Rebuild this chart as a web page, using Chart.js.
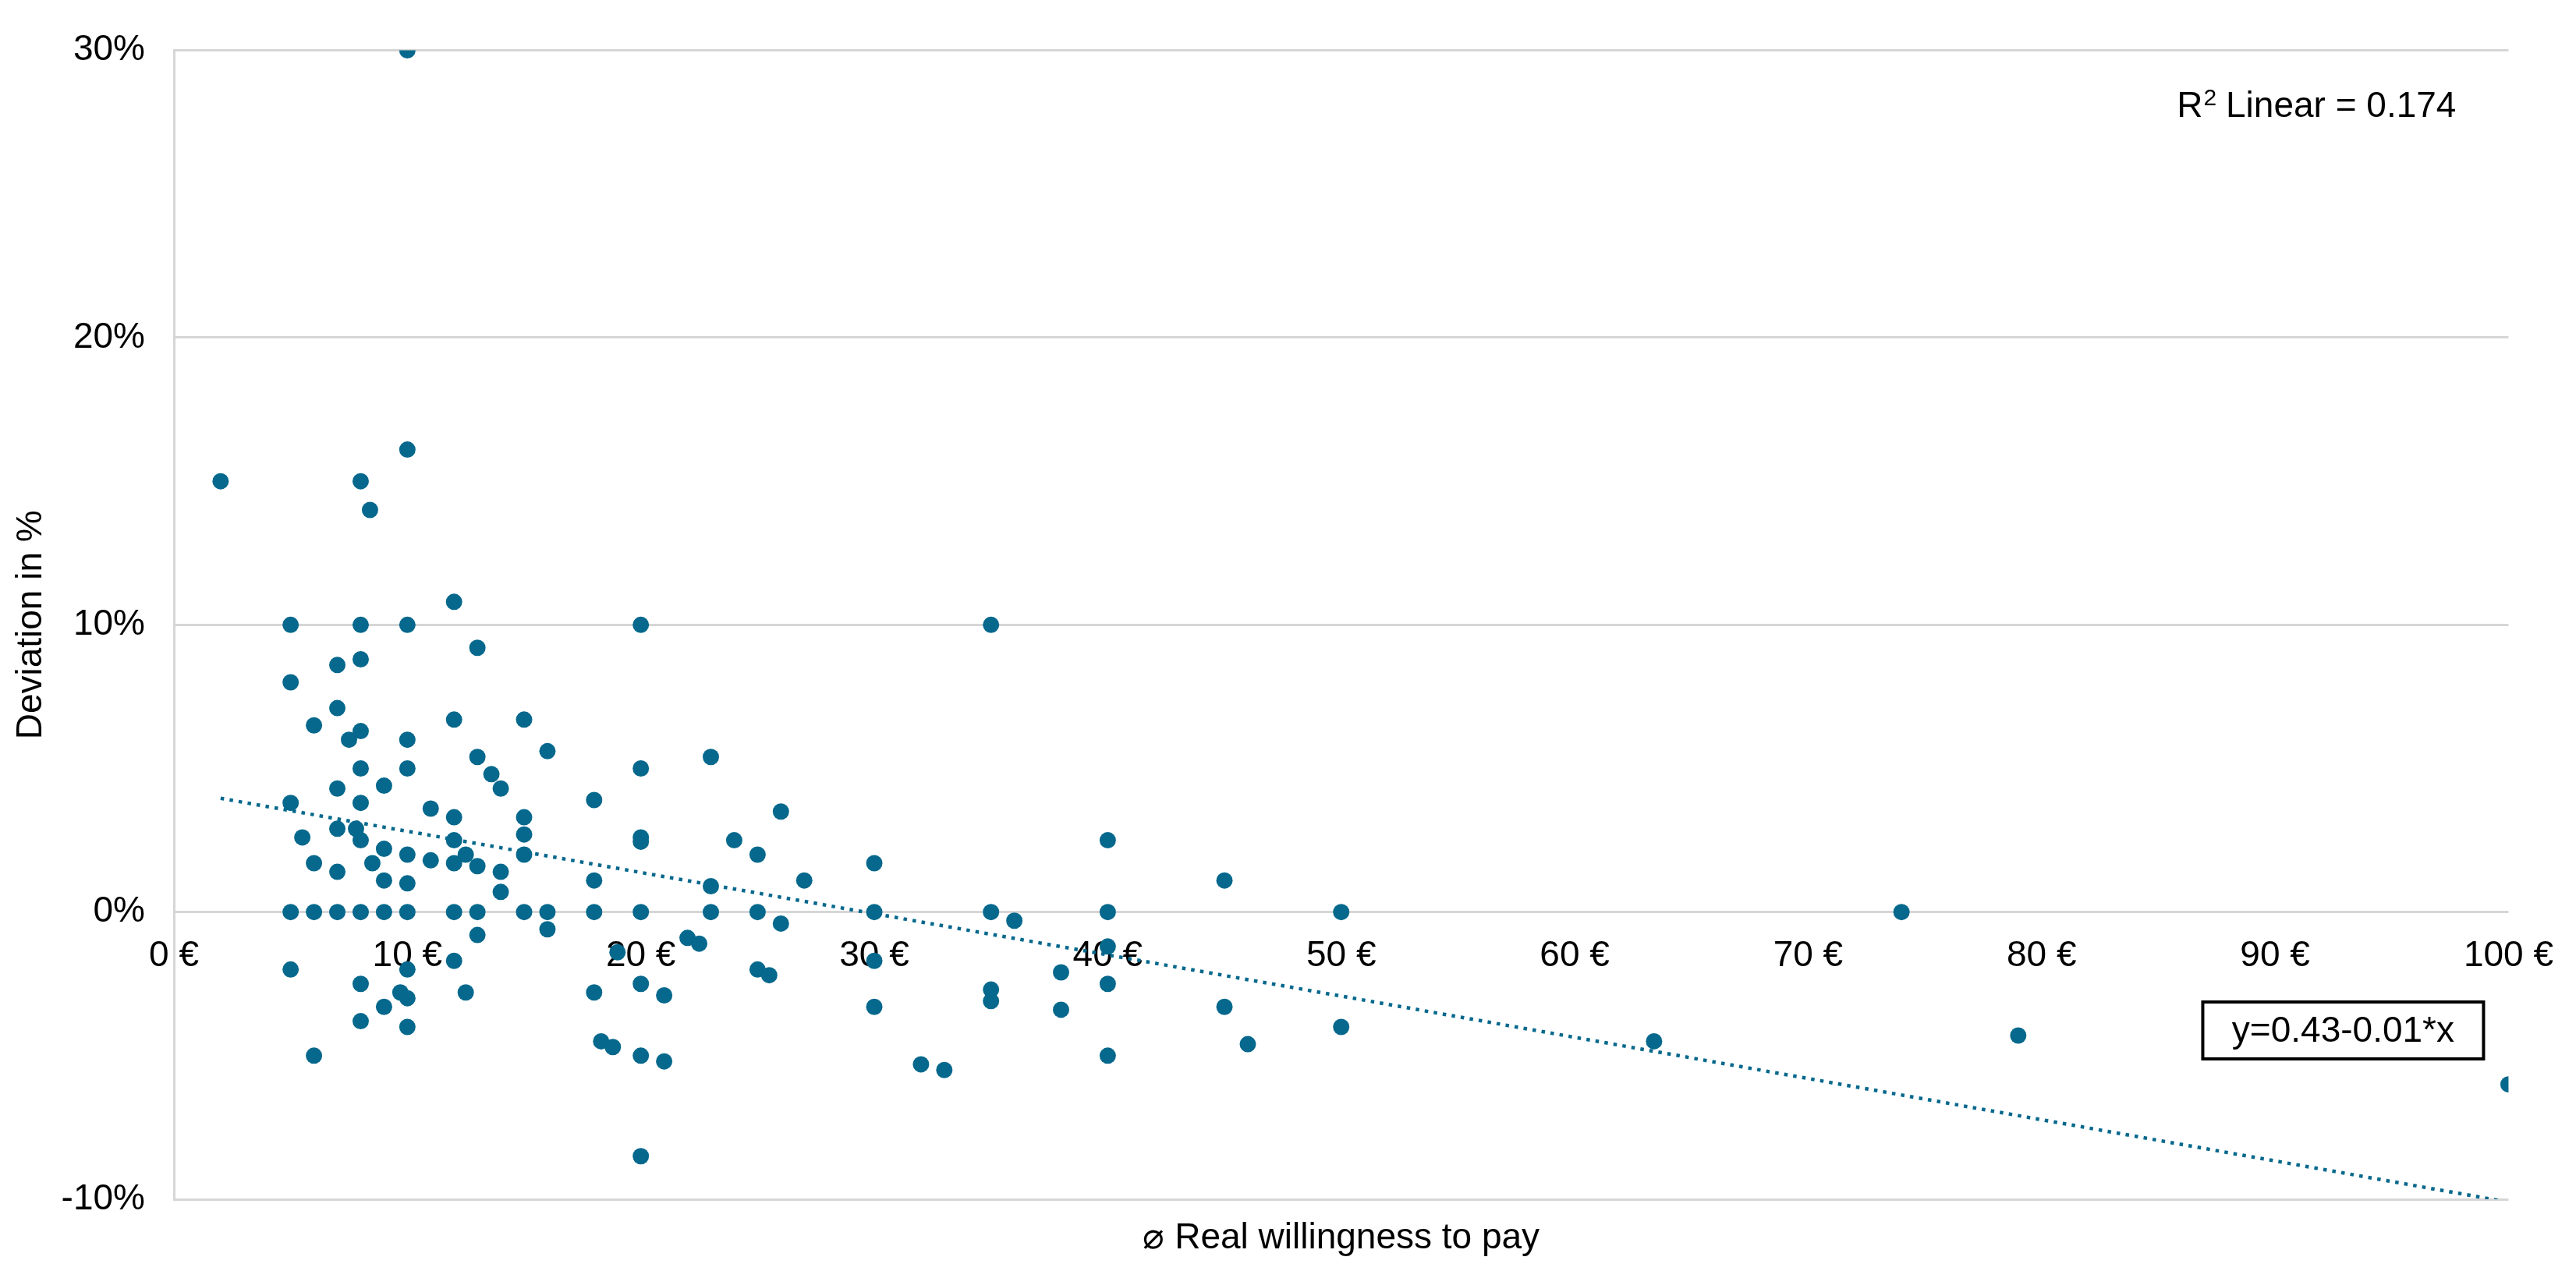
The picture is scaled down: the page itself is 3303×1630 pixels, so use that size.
<!DOCTYPE html>
<html>
<head>
<meta charset="utf-8">
<title>Deviation vs. willingness to pay</title>
<script src="https://cdn.jsdelivr.net/npm/chart.js@4.4.1/dist/chart.umd.min.js"></script>
<style>
  html, body { margin: 0; padding: 0; background: #fff; }
  #wrap { width: 3303px; height: 1630px; }
</style>
</head>
<body>
<div id="wrap"><canvas id="graph"></canvas></div>
<script>
// Real willingness to pay (EUR), one entry per respondent
var willingness = [
    10, 2, 10, 8, 8.4, 12, 5, 8, 10, 13, 8, 7, 5, 7, 6, 8, 7.5, 10, 12, 15,
    13, 16, 8, 10, 13.6, 14, 7, 9,
    5, 8, 11, 12, 15, 15, 7, 7.8, 8, 5.5, 12, 9, 10, 12.5, 15, 6, 8.5, 11,
    12, 13, 7, 14, 9, 10, 14,
    5, 6, 7, 8, 9, 10, 12, 13, 15, 16,
    16, 13, 12, 10, 5, 8, 12.5, 9.7, 10, 9, 8, 10, 6,
    18, 20, 20, 24, 26, 25, 30, 27, 18, 23,
    18, 20, 23, 25, 30,
    26, 22, 22.5, 19, 30, 25, 25.5, 18, 20, 21, 30, 18.3, 18.8, 20, 21, 32, 33, 20,
    40, 45, 35, 36, 40, 50, 40, 38, 40, 35, 35, 38, 45, 50, 46, 40,
    20, 35, 20, 23,
    74, 63.4, 79, 100
];
// Deviation in %, same order as above
var deviation = [
    30, 15, 16.1, 15, 14, 10.8, 10, 10, 10, 9.2, 8.8, 8.6, 8, 7.1, 6.5, 6.3, 6, 6, 6.7, 6.7,
    5.4, 5.6, 5, 5, 4.8, 4.3, 4.3, 4.4,
    3.8, 3.8, 3.6, 3.3, 3.3, 2.7, 2.9, 2.9, 2.5, 2.6, 2.5, 2.2, 2, 2, 2, 1.7, 1.7, 1.8,
    1.7, 1.6, 1.4, 1.4, 1.1, 1, 0.7,
    0, 0, 0, 0, 0, 0, 0, 0, 0, 0,
    -0.6, -0.8, -1.7, -2, -2, -2.5, -2.8, -2.8, -3, -3.3, -3.8, -4, -5,
    3.9, 2.6, 2.45, 2.5, 3.5, 2, 1.7, 1.1, 1.1, 0.9,
    0, 0, 0, 0, 0,
    -0.4, -0.9, -1.1, -1.4, -1.7, -2, -2.2, -2.8, -2.5, -2.9, -3.3, -4.5, -4.7, -5, -5.2, -5.3, -5.5, -8.5,
    2.5, 1.1, 0, -0.3, 0, 0, -1.2, -2.1, -2.5, -2.7, -3.1, -3.4, -3.3, -4, -4.6, -5,
    10, 10, 5, 5.4,
    0, -4.5, -4.3, -6
];
// Linear fit line as drawn (end points)
var trendX = [2, 100];
var trendY = [3.96, -10.1];
// Axis ticks
var xTicks = [0, 10, 20, 30, 40, 50, 60, 70, 80, 90, 100];
var yTicks = [-10, 0, 10, 20, 30];
var rSquared = '0.174';
var equation = 'y=0.43-0.01*x';

var FONT = "'Liberation Sans', Arial, sans-serif";
var DOT = '#05688c';
var GRID = '#d6d6d6';

Chart.defaults.font.family = FONT;
Chart.defaults.color = '#000';

function toPoints(xs, ys) {
    var pts = [];
    for (var i = 0; i < xs.length; i++) {
        pts.push({ x: xs[i], y: ys[i] });
    }
    return pts;
}

// R² text and equation box
var annotations = {
    id: 'annotations',
    afterDraw: function (chart) {
        var ctx = chart.ctx;
        var area = chart.chartArea;
        ctx.save();
        ctx.fillStyle = '#000';
        ctx.textBaseline = 'alphabetic';
        // R² Linear = ...
        var big = '46px ' + FONT;
        var small = '30px ' + FONT;
        var rest = ' Linear = ' + rSquared;
        ctx.font = big;
        var wR = ctx.measureText('R').width;
        var wRest = ctx.measureText(rest).width;
        ctx.font = small;
        var w2 = ctx.measureText('2').width;
        var right = area.right - 67;
        var base = area.top + 85;
        var x = right - (wR + w2 + wRest);
        ctx.textAlign = 'left';
        ctx.font = big;
        ctx.fillText('R', x, base);
        ctx.font = small;
        ctx.fillText('2', x + wR + 1, base - 15);
        ctx.font = big;
        ctx.fillText(rest, x + wR + w2, base);
        // Equation box
        var bx = area.right - 392;
        var by = area.bottom - 253;
        var bw = 360;
        var bh = 73;
        ctx.lineWidth = 4;
        ctx.strokeStyle = '#000';
        ctx.strokeRect(bx, by, bw, bh);
        ctx.textAlign = 'center';
        ctx.textBaseline = 'middle';
        ctx.font = big;
        ctx.fillText(equation, bx + bw / 2, by + bh / 2 + 2);
        ctx.restore();
    }
};

var config = {
    type: 'scatter',
    data: {
        datasets: [
            {
                label: 'Respondents',
                data: toPoints(willingness, deviation),
                backgroundColor: DOT,
                borderWidth: 0,
                pointRadius: 10.5,
                pointHoverRadius: 10.5,
            },
            {
                type: 'line',
                label: 'Linear fit',
                data: toPoints(trendX, trendY),
                borderColor: DOT,
                borderWidth: 4.5,
                borderDash: [4.5, 7.2],
                pointRadius: 0,
                fill: false,
                clip: 0,
            },
        ],
    },
    options: {
        responsive: true,
        maintainAspectRatio: false,
        devicePixelRatio: 1,
        animation: false,
        events: [],
        layout: {
            padding: { left: 0, top: 54, right: 80, bottom: 0 },
        },
        plugins: {
            legend: { display: false },
            tooltip: { enabled: false },
        },
        scales: {
            x: {
                type: 'linear',
                min: 0,
                max: 100,
                position: 'bottom',
                grid: { display: false, drawTicks: false },
                border: { display: false },
                ticks: { display: false },
                title: {
                    display: true,
                    text: '⌀ Real willingness to pay',
                    font: { size: 46 },
                    color: '#000',
                    padding: { top: 0, bottom: 14 },
                },
                afterFit: function (scale) { scale.height = 92; },
            },
            // tick labels sitting on the 0 % line
            x2: {
                type: 'linear',
                min: 0,
                max: 100,
                position: { y: 0 },
                z: 1,
                grid: { display: false, drawTicks: false },
                border: { display: false },
                afterBuildTicks: function (scale) {
                    scale.ticks = xTicks.map(function (v) { return { value: v }; });
                },
                ticks: {
                    autoSkip: false,
                    maxRotation: 0,
                    padding: 29,
                    font: { size: 46 },
                    color: '#000',
                    callback: function (v) { return v + ' €'; },
                },
            },
            y: {
                type: 'linear',
                min: -10,
                max: 30,
                grid: { color: GRID, lineWidth: 3, drawTicks: false },
                border: { display: true, color: GRID, width: 3 },
                afterBuildTicks: function (scale) {
                    scale.ticks = yTicks.map(function (v) { return { value: v }; });
                },
                ticks: {
                    padding: 37,
                    font: { size: 46 },
                    color: '#000',
                    callback: function (v) { return v + '%'; },
                },
                title: {
                    display: true,
                    text: 'Deviation in %',
                    font: { size: 46 },
                    color: '#000',
                    padding: { top: 13, bottom: 0 },
                },
                afterFit: function (scale) { scale.width = 223; },
            },
        },
    },
    plugins: [annotations],
};

new Chart(document.getElementById('graph'), config);
</script>
</body>
</html>
